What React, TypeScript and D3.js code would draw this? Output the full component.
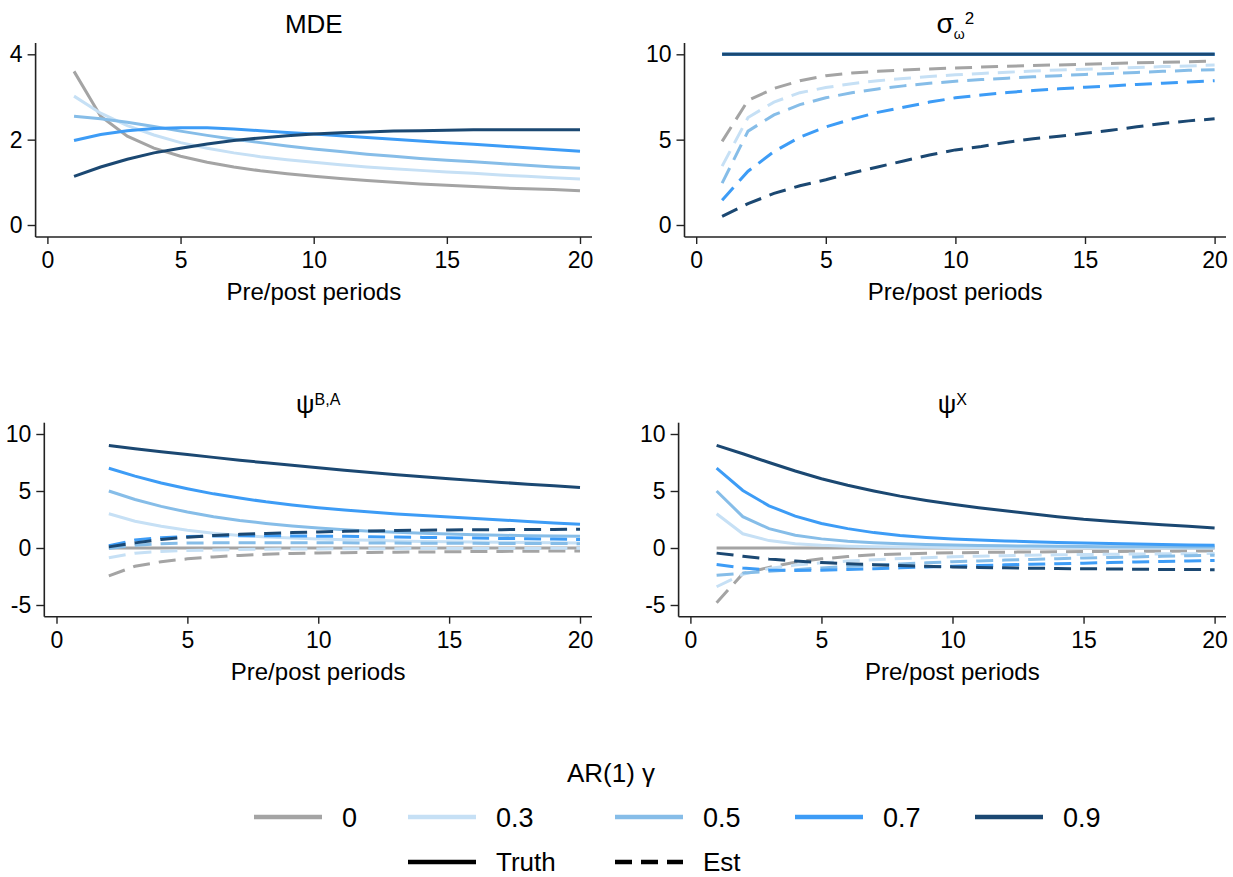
import React, { useEffect, useRef } from "react";
import * as d3 from "d3";

const FONT = "'Liberation Sans', Arial, Helvetica, sans-serif";

const gammas = ["0", "0.3", "0.5", "0.7", "0.9"];
const gammaColors = ["#a4a4a4", "#c6e0f5", "#86bde8", "#3d9cf6", "#1b4872"];

const periods = [1, 2, 3, 4, 5, 6, 7, 8, 9, 10, 11, 12, 13, 14, 15, 16, 17, 18, 19, 20];
const periodsBA = [2, 3, 4, 5, 6, 7, 8, 9, 10, 11, 12, 13, 14, 15, 16, 17, 18, 19, 20];
const xTicks = [0, 5, 10, 15, 20];

// MDE (truth only)
const mde0 = [3.6, 2.55, 2.08, 1.8, 1.61, 1.47, 1.36, 1.27, 1.2, 1.14, 1.09, 1.04, 1.0, 0.96, 0.93, 0.9, 0.87, 0.85, 0.83, 0.8];
const mde03 = [3.02, 2.62, 2.33, 2.11, 1.93, 1.8, 1.69, 1.6, 1.53, 1.47, 1.41, 1.36, 1.32, 1.28, 1.24, 1.21, 1.17, 1.14, 1.11, 1.08];
const mde05 = [2.55, 2.49, 2.41, 2.31, 2.2, 2.1, 2.01, 1.93, 1.85, 1.78, 1.72, 1.66, 1.61, 1.56, 1.52, 1.48, 1.44, 1.4, 1.36, 1.33];
const mde07 = [1.98, 2.12, 2.21, 2.26, 2.28, 2.28, 2.25, 2.21, 2.17, 2.13, 2.09, 2.05, 2.01, 1.97, 1.93, 1.89, 1.85, 1.81, 1.77, 1.73];
const mde09 = [1.14, 1.36, 1.54, 1.69, 1.8, 1.9, 1.98, 2.04, 2.09, 2.13, 2.16, 2.18, 2.2, 2.21, 2.22, 2.23, 2.23, 2.23, 2.23, 2.23];

// sigma_omega^2
const sigmaTruth = [10, 10, 10, 10, 10, 10, 10, 10, 10, 10, 10, 10, 10, 10, 10, 10, 10, 10, 10, 10];
const sigEst0 = [4.9, 7.3, 8.0, 8.45, 8.75, 8.9, 9.0, 9.08, 9.14, 9.2, 9.25, 9.3, 9.34, 9.38, 9.42, 9.46, 9.5, 9.53, 9.56, 9.6];
const sigEst03 = [3.45, 6.3, 7.2, 7.75, 8.05, 8.28, 8.45, 8.58, 8.7, 8.8, 8.88, 8.95, 9.02, 9.08, 9.13, 9.18, 9.23, 9.28, 9.32, 9.37];
const sigEst05 = [2.45, 5.5, 6.45, 7.05, 7.45, 7.75, 7.97, 8.15, 8.3, 8.42, 8.52, 8.6, 8.68, 8.75, 8.82, 8.88, 8.94, 9.0, 9.06, 9.1];
const sigEst07 = [1.45, 3.15, 4.3, 5.15, 5.75, 6.2, 6.6, 6.9, 7.2, 7.45, 7.62, 7.76, 7.88, 7.98, 8.07, 8.15, 8.23, 8.31, 8.38, 8.45];
const sigEst09 = [0.5, 1.25, 1.85, 2.3, 2.65, 3.05, 3.4, 3.75, 4.1, 4.4, 4.6, 4.85, 5.05, 5.2, 5.37, 5.55, 5.75, 5.95, 6.1, 6.22];

// psi^{B,A} (periods 2..20)
const ba0 = [0, 0, 0, 0, 0, 0, 0, 0, 0, 0, 0, 0, 0, 0, 0, 0, 0, 0, 0];
const ba03 = [3.0, 2.35, 1.9, 1.55, 1.3, 1.1, 0.97, 0.87, 0.8, 0.72, 0.67, 0.62, 0.58, 0.55, 0.52, 0.5, 0.48, 0.46, 0.44];
const ba05 = [5.0, 4.25, 3.65, 3.15, 2.75, 2.42, 2.15, 1.93, 1.75, 1.6, 1.48, 1.38, 1.3, 1.23, 1.17, 1.12, 1.08, 1.05, 1.02];
const ba07 = [7.0, 6.3, 5.7, 5.2, 4.75, 4.38, 4.05, 3.78, 3.54, 3.33, 3.15, 2.99, 2.85, 2.72, 2.59, 2.46, 2.33, 2.2, 2.08];
const ba09 = [9.0, 8.7, 8.45, 8.2, 7.95, 7.7, 7.47, 7.25, 7.03, 6.82, 6.62, 6.43, 6.25, 6.08, 5.91, 5.75, 5.6, 5.45, 5.3];
const baEst0 = [-2.45, -1.6, -1.2, -0.95, -0.78, -0.65, -0.55, -0.48, -0.44, -0.41, -0.39, -0.37, -0.35, -0.33, -0.31, -0.3, -0.28, -0.27, -0.26];
const baEst03 = [-0.85, -0.45, -0.3, -0.22, -0.17, -0.13, -0.11, -0.09, -0.08, -0.07, -0.06, -0.06, -0.05, -0.05, -0.04, -0.04, -0.04, -0.03, -0.03];
const baEst05 = [-0.05, 0.25, 0.38, 0.43, 0.45, 0.46, 0.46, 0.46, 0.45, 0.45, 0.44, 0.43, 0.42, 0.42, 0.41, 0.4, 0.39, 0.39, 0.38];
const baEst07 = [0.2, 0.7, 0.9, 1.0, 1.05, 1.07, 1.07, 1.06, 1.04, 1.02, 0.99, 0.96, 0.93, 0.9, 0.87, 0.84, 0.81, 0.78, 0.75];
const baEst09 = [0.1, 0.45, 0.75, 0.95, 1.1, 1.2, 1.28, 1.35, 1.41, 1.46, 1.5, 1.53, 1.56, 1.58, 1.6, 1.61, 1.62, 1.63, 1.64];

// psi^X (periods 1..20)
const px0 = [0, 0, 0, 0, 0, 0, 0, 0, 0, 0, 0, 0, 0, 0, 0, 0, 0, 0, 0, 0];
const px03 = [3.0, 1.25, 0.65, 0.38, 0.24, 0.16, 0.11, 0.08, 0.06, 0.05, 0.04, 0.03, 0.03, 0.02, 0.02, 0.02, 0.01, 0.01, 0.01, 0.01];
const px05 = [5.0, 2.75, 1.7, 1.12, 0.8, 0.6, 0.47, 0.38, 0.31, 0.26, 0.22, 0.19, 0.17, 0.15, 0.13, 0.12, 0.11, 0.1, 0.09, 0.08];
const px07 = [7.0, 5.05, 3.7, 2.8, 2.15, 1.7, 1.35, 1.1, 0.93, 0.8, 0.7, 0.62, 0.55, 0.49, 0.44, 0.39, 0.34, 0.3, 0.27, 0.24];
const px09 = [9.0, 8.27, 7.5, 6.75, 6.08, 5.5, 5.0, 4.55, 4.17, 3.83, 3.53, 3.26, 3.0, 2.75, 2.52, 2.35, 2.2, 2.05, 1.9, 1.75];
const pxEst0 = [-4.8, -2.25, -1.7, -1.25, -0.95, -0.75, -0.6, -0.52, -0.46, -0.42, -0.39, -0.37, -0.35, -0.33, -0.31, -0.3, -0.29, -0.28, -0.27, -0.26];
const pxEst03 = [-3.4, -2.3, -1.8, -1.5, -1.3, -1.15, -1.03, -0.93, -0.85, -0.77, -0.72, -0.67, -0.63, -0.6, -0.57, -0.55, -0.53, -0.51, -0.5, -0.49];
const pxEst05 = [-2.4, -2.2, -2.05, -1.9, -1.75, -1.62, -1.5, -1.4, -1.3, -1.2, -1.13, -1.06, -1.0, -0.94, -0.88, -0.83, -0.78, -0.73, -0.68, -0.64];
const pxEst07 = [-1.45, -1.75, -1.92, -1.97, -1.95, -1.88, -1.81, -1.74, -1.67, -1.6, -1.54, -1.48, -1.43, -1.38, -1.33, -1.28, -1.23, -1.18, -1.14, -1.1];
const pxEst09 = [-0.45, -0.72, -0.97, -1.15, -1.28, -1.38, -1.46, -1.54, -1.6, -1.66, -1.7, -1.74, -1.77, -1.8, -1.82, -1.84, -1.86, -1.88, -1.89, -1.9];

// panel layout
const panels = [
    {
        title: [{ t: "MDE", size: 26, dy: 0 }],
        x0: 47.4, x20: 580, left: 35.6, right: 592, top: 43, bottom: 237, titleY: 33,
        yDomain: [0, 4], yRange: [225, 54.3], yTicks: [0, 2, 4],
        xs: periods,
        truth: [mde0, mde03, mde05, mde07, mde09], est: null,
    },
    {
        title: [{ t: "σ", size: 28, dy: 0 }, { t: "ω", size: 14, dy: 6 }, { t: "2", size: 17, dy: -15 }],
        x0: 696.2, x20: 1214.6, left: 684.5, right: 1226, top: 43, bottom: 237, titleY: 33,
        yDomain: [0, 10], yRange: [225, 54.3], yTicks: [0, 5, 10],
        xs: periods,
        truth: [sigmaTruth, sigmaTruth, sigmaTruth, sigmaTruth, sigmaTruth],
        est: [sigEst0, sigEst03, sigEst05, sigEst07, sigEst09],
    },
    {
        title: [{ t: "ψ", size: 26, dy: 0 }, { t: "B,A", size: 16, dy: -8 }],
        x0: 56.5, x20: 580, left: 44.3, right: 592, top: 422.7, bottom: 616.7, titleY: 413,
        yDomain: [-5, 10], yRange: [605, 434], yTicks: [-5, 0, 5, 10],
        xs: periodsBA,
        truth: [ba0, ba03, ba05, ba07, ba09],
        est: [baEst0, baEst03, baEst05, baEst07, baEst09],
    },
    {
        title: [{ t: "ψ", size: 26, dy: 0 }, { t: "X", size: 16, dy: -8 }],
        x0: 690.4, x20: 1214.6, left: 678.6, right: 1226, top: 422.7, bottom: 616.7, titleY: 413,
        yDomain: [-5, 10], yRange: [605, 434], yTicks: [-5, 0, 5, 10],
        xs: periods,
        truth: [px0, px03, px05, px07, px09],
        est: [pxEst0, pxEst03, pxEst05, pxEst07, pxEst09],
    },
];

const legendCols = [254, 408, 615, 795, 975];

export default function App() {
    const ref = useRef<SVGSVGElement>(null);

    useEffect(() => {
        const svg = d3.select(ref.current);
        svg.selectAll("*").remove();

        panels.forEach((p) => {
            const x = d3.scaleLinear().domain([0, 20]).range([p.x0, p.x20]);
            const y = d3.scaleLinear().domain(p.yDomain).range(p.yRange);
            const g = svg.append("g");

            // axes
            const xa = g.append("g")
                .attr("transform", `translate(0,${p.bottom})`)
                .call(d3.axisBottom(x).tickValues(xTicks).tickSize(7).tickPadding(8));
            const ya = g.append("g")
                .attr("transform", `translate(${p.left},0)`)
                .call(d3.axisLeft(y).tickValues(p.yTicks).tickSize(8).tickPadding(5).tickFormat((d) => String(d)));
            [xa, ya].forEach((a) => {
                a.select(".domain").remove();
                a.attr("font-size", 23).attr("font-family", FONT);
                a.selectAll("line").attr("stroke", "#222").attr("stroke-width", 1.4);
                a.selectAll("text").attr("fill", "#000");
            });
            g.append("line")
                .attr("x1", p.left).attr("x2", p.right)
                .attr("y1", p.bottom).attr("y2", p.bottom)
                .attr("stroke", "#222").attr("stroke-width", 1.6);
            g.append("line")
                .attr("x1", p.left).attr("x2", p.left)
                .attr("y1", p.top).attr("y2", p.bottom)
                .attr("stroke", "#222").attr("stroke-width", 1.6);

            const line = d3.line<number>()
                .x((d, i) => x(p.xs[i]))
                .y((d) => y(d));

            gammas.forEach((gm, k) => {
                g.append("path")
                    .attr("d", line(p.truth[k]))
                    .attr("fill", "none")
                    .attr("stroke", gammaColors[k])
                    .attr("stroke-width", 3);
                if (p.est) {
                    g.append("path")
                        .attr("d", line(p.est[k]))
                        .attr("fill", "none")
                        .attr("stroke", gammaColors[k])
                        .attr("stroke-width", 3)
                        .attr("stroke-dasharray", "17 9");
                }
            });

            // title
            const cx = (p.left + p.right) / 2;
            const t = g.append("text")
                .attr("x", cx).attr("y", p.titleY)
                .attr("text-anchor", "middle")
                .attr("font-family", FONT);
            p.title.forEach((part) => {
                t.append("tspan")
                    .attr("font-size", part.size)
                    .attr("dy", part.dy)
                    .text(part.t);
            });

            // axis title
            g.append("text")
                .attr("x", cx)
                .attr("y", p.bottom + 63)
                .attr("text-anchor", "middle")
                .attr("font-family", FONT)
                .attr("font-size", 24)
                .text("Pre/post periods");
        });

        // legend
        const lg = svg.append("g").attr("font-family", FONT);
        lg.append("text")
            .attr("x", 611).attr("y", 782)
            .attr("text-anchor", "middle")
            .attr("font-size", 26)
            .text("AR(1) γ");
        gammas.forEach((gm, k) => {
            lg.append("line")
                .attr("x1", legendCols[k]).attr("x2", legendCols[k] + 68)
                .attr("y1", 817).attr("y2", 817)
                .attr("stroke", gammaColors[k]).attr("stroke-width", 4.5);
            lg.append("text")
                .attr("x", legendCols[k] + 88).attr("y", 827)
                .attr("font-size", 27)
                .text(gm);
        });
        const styles = [{ label: "Truth", dash: null }, { label: "Est", dash: "17 9" }];
        styles.forEach((s, k) => {
            const lx = legendCols[k + 1];
            const l = lg.append("line")
                .attr("x1", lx).attr("x2", lx + 68)
                .attr("y1", 862).attr("y2", 862)
                .attr("stroke", "#000").attr("stroke-width", 4.5);
            if (s.dash) l.attr("stroke-dasharray", s.dash);
            lg.append("text")
                .attr("x", lx + 88).attr("y", 871)
                .attr("font-size", 26)
                .text(s.label);
        });
    }, []);

    return (
        <svg
            ref={ref}
            width={1233}
            height={877}
            style={{ position: "absolute", left: 0, top: 0, background: "#fff" }}
        />
    );
}
